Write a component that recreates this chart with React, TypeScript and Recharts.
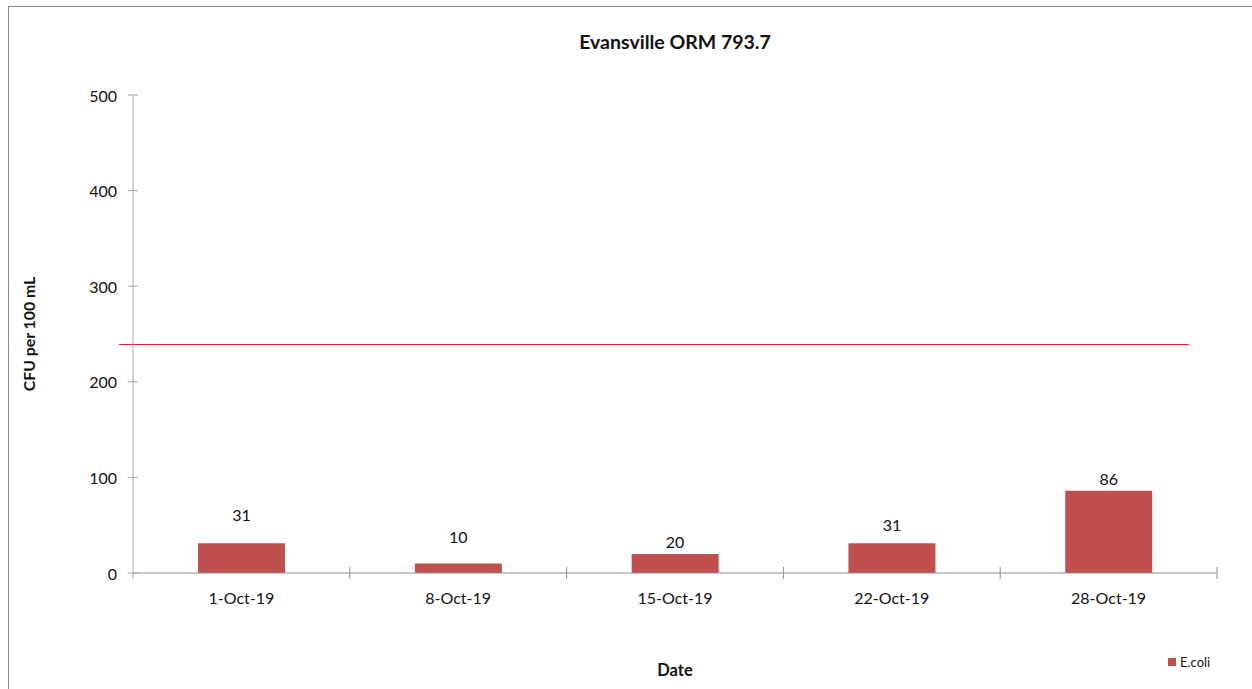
import React from 'react';
import { BarChart, Bar, XAxis, YAxis, ReferenceLine, LabelList, Legend } from 'recharts';

// sampling dates and E. coli counts (CFU per 100 mL)
const dates = ['1-Oct-19', '8-Oct-19', '15-Oct-19', '22-Oct-19', '28-Oct-19'];
const ecoli = [31, 10, 20, 31, 86];
const yTicks = [0, 100, 200, 300, 400, 500];
const criterion = 240;

const data = dates.map((d, i) => ({ date: d, ecoli: ecoli[i] }));

const W = 1244;
const H = 683;
// bottom margin leaves room for the 16px legend box recharts reserves
const MARGIN = { top: 89, right: 35, left: 0, bottom: 70 };
const Y_W = 125;
const X_H = 30;
const BAND = (W - MARGIN.left - Y_W - MARGIN.right) / dates.length;

const FONT = 'Lato, "Open Sans", sans-serif';
const INK = '#111';
const BAR = '#c0504d';
const LIMIT = '#e0262b';
// hand-placed label lifts (px above bar top), as in the source sheet
const LABEL_LIFT = [29, 27, 12, 19, 12];

function YTick({ x, y, payload }: any) {
  return (
    <g>
      <line x1={x - 5} x2={x + 5} y1={y} y2={y} stroke="#a8a8a8" />
      <text x={x - 16} y={y} textAnchor="end" dominantBaseline="central"
        fontFamily={FONT} fontSize={16} fill={INK}>{payload.value}</text>
    </g>
  );
}

function XTick({ x, y, index, payload }: any) {
  return (
    <g>
      {index === 0 && <line x1={x - BAND / 2} x2={x - BAND / 2} y1={y} y2={y + 6} stroke="#a8a8a8" />}
      <line x1={x + BAND / 2} x2={x + BAND / 2} y1={y - 6} y2={y + 6} stroke="#8c8c8c" />
      <text x={x} y={y + 24} textAnchor="middle" dominantBaseline="central"
        fontFamily={FONT} fontSize={16} fill={INK}>{payload.value}</text>
    </g>
  );
}

function BarLabel({ x, y, width, value, index }: any) {
  return (
    <text x={x + width / 2} y={y - LABEL_LIFT[index]} textAnchor="middle" dominantBaseline="central"
      fontFamily={FONT} fontSize={16} fill={INK}>{value}</text>
  );
}

function LegendBox() {
  return (
    <div style={{ display: 'flex', alignItems: 'center', fontFamily: FONT, fontSize: 13, color: INK }}>
      <span style={{ width: 8, height: 8, background: BAR, marginRight: 4, display: 'inline-block' }} />
      E.coli
    </div>
  );
}

export default function App() {
  return (
    <div style={{ position: 'absolute', left: 0, top: 0, width: 1252, height: 689, background: '#fff' }}>
      <div style={{ position: 'absolute', left: 8, top: 6, width: W, height: H,
        borderTop: '1px solid #8a8a8a', borderLeft: '1px solid #8a8a8a', boxSizing: 'border-box' }} />
      <div style={{ position: 'absolute', left: 8, top: 6 }}>
        <BarChart width={W} height={H} data={data} margin={MARGIN} barCategoryGap="30%">
          <text x={(Y_W + W - MARGIN.right) / 2} y={35} textAnchor="middle" dominantBaseline="central"
            fontFamily={FONT} fontSize={19.5} fontWeight="bold" fill={INK}>Evansville ORM 793.7</text>
          <XAxis dataKey="date" height={X_H} tickSize={0} tickMargin={0}
            axisLine={{ stroke: '#8c8c8c' }} tickLine={false} tick={<XTick />}
            label={({ viewBox }: any) => (
              <text x={viewBox.x + viewBox.width / 2} y={664} textAnchor="middle" dominantBaseline="central"
                fontFamily={FONT} fontSize={16.5} fontWeight="bold" fill={INK}>Date</text>
            )} />
          <YAxis width={Y_W} domain={[0, 500]} ticks={yTicks} tickSize={0} tickMargin={0}
            axisLine={{ stroke: '#a8a8a8' }} tickLine={false} tick={<YTick />}
            label={({ viewBox }: any) => (
              <text x={20} y={viewBox.y + viewBox.height / 2} textAnchor="middle" dominantBaseline="central"
                transform={`rotate(-90 20 ${viewBox.y + viewBox.height / 2})`}
                fontFamily={FONT} fontSize={15.8} fontWeight="bold" fill={INK}>CFU per 100 mL</text>
            )} />
          <Bar dataKey="ecoli" name="E.coli" fill={BAR} isAnimationActive={false}>
            <LabelList dataKey="ecoli" content={<BarLabel />} />
          </Bar>
          <ReferenceLine y={criterion} stroke={LIMIT}
            shape={(p: any) => (
              <line x1={p.x1 - 14} x2={p.x2 - 28} y1={Math.round(p.y1) + 0.5} y2={Math.round(p.y2) + 0.5}
                stroke={LIMIT} strokeWidth={1.2} />
            )} />
          <Legend layout="vertical" align="center" verticalAlign="bottom" content={<LegendBox />}
            wrapperStyle={{ position: 'absolute', left: 1160, top: 648, width: 80, height: 16 }} />
        </BarChart>
      </div>
    </div>
  );
}
